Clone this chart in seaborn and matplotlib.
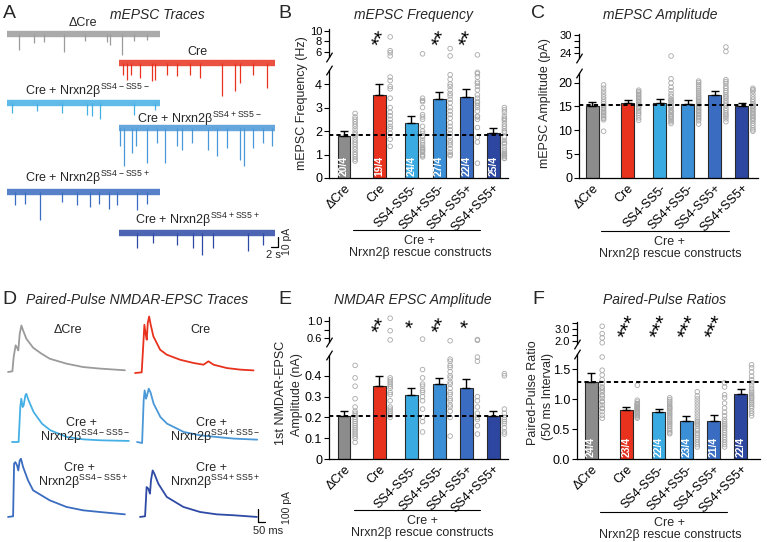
import numpy as np
import pandas as pd
import matplotlib
matplotlib.use("Agg")
import matplotlib.pyplot as plt
import seaborn as sns

# ── Data ──────────────────────────────────────────────────
GROUPS = ["ΔCre", "Cre", "SS4-SS5-", "SS4+SS5-", "SS4-SS5+", "SS4+SS5+"]
BAR_COLORS = ["#8c8c8c", "#e8321e", "#3aaae2", "#3a8fd6", "#3a6dc2", "#2d47a0"]
TRACE_COLORS = ["#9b9b9b", "#e8321e", "#45b0e5", "#4a98d8", "#3a6cc0", "#2e4aa5"]

# B: mEPSC frequency (Hz)
B_MEAN = [1.8, 3.55, 2.35, 3.35, 3.45, 1.9]
B_SEM = [0.2, 0.45, 0.3, 0.3, 0.35, 0.22]
B_N = ["20/4", "19/4", "24/4", "27/4", "22/4", "25/4"]
B_REF = 1.83
B_STARS = ["", "**", "", "**", "**", ""]
B_DOTS = [
    [2.75, 2.6, 2.5, 2.4, 2.3, 2.2, 2.08, 1.95, 1.85, 1.75, 1.63, 1.53, 1.43, 1.32, 1.22, 1.1, 1.0, 0.9, 0.8, 0.72],
    [8.8, 6.2, 5.8, 5.2, 4.3, 4.15, 3.9, 3.8, 3.4, 3.0, 2.8, 2.65, 2.5, 2.35, 2.2, 2.1, 1.9, 1.65, 1.35],
    [5.6, 3.4, 3.25, 3.0, 2.7, 2.6, 2.5, 2.2, 1.9, 1.75, 1.6, 1.5, 1.4, 1.3, 1.25, 1.15, 1.1, 1.0, 0.95, 0.9, 2.0, 1.8, 1.2, 3.3],
    [6.6, 5.2, 4.4, 4.2, 3.9, 3.75, 3.6, 3.35, 3.2, 3.0, 2.85, 2.7, 2.55, 2.35, 2.2, 2.05, 1.9, 1.75, 1.6, 1.5, 1.4, 1.25, 1.1, 1.0, 0.95, 4.0, 3.5],
    [5.4, 4.5, 4.44, 4.3, 4.1, 4.03, 3.9, 3.75, 3.54, 3.4, 3.26, 3.2, 3.1, 3.0, 2.85, 2.64, 2.6, 2.5, 2.15, 1.74, 1.53, 0.63],
    [3.0, 2.9, 2.8, 2.64, 2.55, 2.5, 2.43, 2.3, 2.2, 2.1, 2.0, 1.95, 1.74, 1.6, 1.5, 1.46, 1.32, 1.2, 1.1, 1.04, 1.0, 0.95, 0.93, 0.85, 0.83],
]

# C: mEPSC amplitude (pA)
C_MEAN = [15.1, 15.7, 15.8, 15.5, 17.3, 15.1]
C_SEM = [0.9, 0.7, 0.8, 0.9, 1.0, 0.6]
C_REF = 15.2
C_DOTS = [
    [19.5, 18.8, 18.2, 17.6, 17.0, 16.5, 16.0, 15.6, 15.2, 14.9, 14.6, 14.3, 14.0, 13.7, 13.4, 13.1, 12.8, 12.5, 12.2, 9.8],
    [18.4, 18.1, 17.8, 17.5, 17.2, 16.9, 16.6, 16.3, 16.0, 15.7, 15.4, 15.1, 14.8, 14.5, 14.0, 13.6, 13.2, 12.6, 12.1],
    [23.0, 20.8, 19.9, 19.0, 18.3, 17.6, 17.1, 16.5, 16.3, 16.0, 15.8, 15.3, 15.0, 14.8, 14.3, 14.0, 13.7, 13.3, 13.0, 12.8, 12.5, 12.1, 11.8, 11.4],
    [20.3, 20.0, 19.6, 19.2, 18.8, 18.4, 18.0, 17.6, 17.2, 16.9, 16.6, 16.3, 16.0, 15.7, 15.4, 15.1, 14.8, 14.5, 14.2, 13.9, 13.6, 13.3, 13.0, 12.7, 12.4, 12.0, 11.3],
    [26.0, 24.5, 20.6, 20.2, 19.8, 19.2, 18.8, 18.3, 17.9, 17.4, 17.0, 16.7, 16.2, 15.7, 15.2, 14.6, 14.1, 13.6, 13.2, 12.9, 12.4, 11.8],
    [18.8, 18.5, 18.2, 17.6, 17.0, 16.5, 16.0, 15.6, 15.3, 15.0, 14.7, 14.4, 14.1, 13.8, 13.5, 13.2, 12.9, 12.6, 12.3, 12.0, 11.5, 11.0, 10.5, 10.1, 9.8],
]

# E: 1st NMDAR-EPSC amplitude (nA)
E_MEAN = [0.205, 0.35, 0.31, 0.36, 0.34, 0.205]
E_SEM = [0.025, 0.05, 0.03, 0.03, 0.045, 0.025]
E_REF = 0.205
E_STARS = ["", "**", "*", "**", "*", ""]
E_DOTS = [
    [0.45, 0.39, 0.35, 0.29, 0.25, 0.23, 0.22, 0.21, 0.2, 0.19, 0.18, 0.17, 0.16, 0.15, 0.14, 0.13, 0.12, 0.11, 0.10, 0.08],
    [1.07, 0.77, 0.55, 0.39, 0.38, 0.37, 0.36, 0.35, 0.34, 0.32, 0.31, 0.28, 0.25, 0.24, 0.23, 0.22, 0.21, 0.2],
    [0.57, 0.43, 0.39, 0.36, 0.35, 0.33, 0.32, 0.3, 0.28, 0.24, 0.2, 0.18, 0.13],
    [0.53, 0.48, 0.47, 0.45, 0.44, 0.42, 0.4, 0.39, 0.37, 0.36, 0.34, 0.32, 0.31, 0.29, 0.28, 0.26, 0.25, 0.23, 0.2, 0.11],
    [0.56, 0.54, 0.49, 0.47, 0.3, 0.28, 0.25, 0.22, 0.2, 0.19, 0.16, 0.12],
    [0.41, 0.4, 0.24, 0.22, 0.2, 0.19, 0.18, 0.17, 0.15, 0.13, 0.12],
]

# F: paired-pulse ratio
F_MEAN = [1.29, 0.82, 0.78, 0.63, 0.64, 1.09]
F_SEM = [0.15, 0.05, 0.05, 0.09, 0.09, 0.07]
F_N = ["24/4", "23/4", "22/4", "23/4", "21/4", "22/4"]
F_REF = 1.28
F_STARS = ["", "***", "***", "***", "***", ""]
F_DOTS = [
    [3.2, 2.6, 2.25, 1.85, 1.7, 1.48, 1.4, 1.32, 1.26, 1.2, 1.18, 1.15, 1.12, 1.07, 1.05, 1.01, 0.96, 0.95, 0.9, 0.85, 0.84, 0.79, 0.73, 0.68],
    [1.23, 0.98, 0.95, 0.92, 0.92, 0.9, 0.9, 0.88, 0.87, 0.86, 0.85, 0.84, 0.83, 0.82, 0.8, 0.79, 0.78, 0.76, 0.75, 0.73, 0.72, 0.7, 0.68],
    [1.02, 0.99, 0.96, 0.93, 0.9, 0.87, 0.85, 0.84, 0.81, 0.78, 0.75, 0.72, 0.69, 0.66, 0.63, 0.6, 0.57, 0.54, 0.5, 0.47, 0.44, 0.42],
    [1.12, 1.05, 1.0, 0.95, 0.9, 0.85, 0.8, 0.75, 0.7, 0.65, 0.62, 0.6, 0.58, 0.55, 0.5, 0.47, 0.43, 0.4, 0.36, 0.32, 0.28, 0.24, 0.2],
    [1.27, 1.2, 1.07, 1.02, 0.93, 0.85, 0.78, 0.72, 0.66, 0.62, 0.58, 0.55, 0.52, 0.48, 0.44, 0.4, 0.36, 0.32, 0.28, 0.24, 0.2],
    [1.57, 1.52, 1.45, 1.38, 1.32, 1.27, 1.22, 1.17, 1.13, 1.1, 1.07, 1.04, 1.02, 1.0, 0.97, 0.94, 0.91, 0.88, 0.85, 0.8, 0.76, 0.72],
]

# A: mEPSC traces, recording length (s), event times (s) and amplitudes (pA)
MINI_DUR = [46, 47, 46, 47, 46, 47]
MINI_T = [
    [3.5, 8, 11, 17, 23.5, 30, 31, 34.5, 38, 42],
    [1.3, 2.5, 3.7, 6.5, 10, 11, 14.5, 17.5, 21.5, 24.5, 31, 35, 36.5, 40.5, 44.5],
    [1.5, 9, 16.5, 24, 25.5, 28, 38, 44.5],
    [0.3, 1.5, 4, 5.3, 8.5, 11.5, 14, 17.5, 19, 22, 27, 29.5, 32.5, 36.5, 37.7, 40.5, 43.5, 46],
    [2.5, 5.5, 10, 16.5, 21, 25, 27.5, 30.5, 33, 39, 42],
    [5.5, 10.5, 17.5, 22.5, 25, 28.5, 39, 43.5],
]
MINI_A = [
    [16, 9, 8, 18, 7, 8, 11, 21, 7, 6],
    [12, 17, 12, 15, 18, 17, 12, 13, 12, 15, 33, 28, 20, 12, 25],
    [10, 8, 10, 12, 13, 16, 12, 7],
    [18, 38, 25, 18, 35, 15, 35, 18, 22, 15, 22, 28, 20, 32, 38, 20, 15, 18],
    [13, 12, 28, 10, 13, 15, 12, 17, 13, 18, 12],
    [15, 10, 12, 15, 22, 15, 18, 12],
]

# D: paired-pulse NMDAR-EPSC traces, time (ms) and current (pA)
NM_T = [
    [0, 31, 40, 54, 64, 73, 83, 95, 107, 130, 178, 237, 296, 415, 533, 652, 830],
    [0, 47, 59, 66, 76, 83, 90, 100, 111, 130, 178, 225, 320, 415, 486, 521, 557, 652, 747, 841],
    [0, 47, 59, 66, 76, 83, 95, 102, 118, 154, 213, 273, 391, 510, 628, 830],
    [0, 36, 47, 54, 64, 71, 83, 95, 118, 166, 213, 332, 450, 569, 687, 853],
    [0, 36, 43, 52, 64, 73, 83, 92, 107, 142, 178, 296, 415, 533, 652, 830],
    [0, 36, 47, 59, 71, 78, 90, 102, 130, 190, 308, 427, 545, 664, 830],
]
NM_I = [
    [0, 5, 115, 205, 187, 166, 294, 358, 320, 256, 187, 141, 102, 64, 38, 26, 13],
    [0, 5, 230, 371, 294, 256, 384, 435, 371, 282, 179, 141, 102, 77, 64, 90, 64, 38, 26, 20],
    [0, 0, 269, 333, 269, 282, 358, 371, 320, 230, 141, 90, 38, 20, 13, 8],
    [0, -8, 320, 397, 333, 358, 410, 384, 294, 192, 141, 77, 51, 38, 26, 18],
    [0, 5, 410, 422, 397, 358, 435, 448, 384, 282, 205, 128, 77, 51, 38, 20],
    [0, 5, 230, 218, 179, 282, 358, 333, 256, 154, 77, 38, 20, 13, 0],
]

# ── Layout ────────────────────────────────────────────────
W, H = 767, 542
XPOS = [0, 1.17, 2.25, 3.17, 4.08, 4.98]
DOT_DX = 0.37

sns.set_style("ticks")
plt.rcParams["font.family"] = ["Liberation Sans", "DejaVu Sans"]
plt.rcParams["mathtext.fontset"] = "custom"
plt.rcParams["mathtext.rm"] = "Liberation Sans"
plt.rcParams["axes.linewidth"] = 0.9

fig = plt.figure(figsize=(W / 100, H / 100), dpi=100)


def px_axes(x0, y0, x1, y1):
    return fig.add_axes([x0 / W, 1 - y1 / H, (x1 - x0) / W, (y1 - y0) / H])


def ftext(x, y, s, **kw):
    kw.setdefault("ha", "center")
    kw.setdefault("va", "center")
    kw.setdefault("fontsize", 9)
    fig.text(x / W, 1 - y / H, s, **kw)


def fline(x0, x1, y):
    fig.add_artist(plt.Line2D([x0 / W, x1 / W], [1 - y / H] * 2,
                              transform=fig.transFigure, color="k", lw=0.8))


def style_ticks(ax, size=9):
    ax.tick_params(axis="y", direction="out", length=3.5, width=0.8,
                   labelsize=size, pad=1.5, colors="k")
    ax.tick_params(axis="x", length=0, labelsize=9, pad=3, colors="k")
    for sp in ax.spines.values():
        sp.set_color("k")


def break_mark(ax, y):
    ax.plot([0], [y], transform=ax.transAxes, marker=[(-1, -1.6), (1, 1.6)],
            markersize=7, linestyle="none", color="k", mec="k", mew=0.9,
            clip_on=False)


def bar_panel(lo_box, hi_box, xlim, means, sems, dots, lo_lim, hi_lim,
              lo_ticks, lo_labels, hi_ticks, hi_labels, ref,
              counts=None, stars=None, star_y=None):
    ax = px_axes(*lo_box)
    axu = px_axes(*hi_box)

    bars = pd.DataFrame({"x": XPOS, "group": GROUPS, "mean": means})
    sns.barplot(data=bars, x="x", y="mean", hue="group", hue_order=GROUPS,
                palette=BAR_COLORS, native_scale=True, width=0.48,
                errorbar=None, saturation=1, edgecolor="#2a2a2a",
                linewidth=0.8, legend=False, ax=ax)
    ax.errorbar(XPOS, means, yerr=[np.zeros(len(means)), sems], fmt="none",
                ecolor="k", elinewidth=1.0, capsize=3.2, capthick=1.0, zorder=3)

    rows = [(XPOS[i] + DOT_DX, v) for i, vals in enumerate(dots) for v in vals]
    pts = pd.DataFrame(rows, columns=["x", "v"])
    lo_pts = pts[pts["v"] <= lo_lim[1]]
    hi_pts = pts[pts["v"] > lo_lim[1]]
    for a, d in [(ax, lo_pts), (axu, hi_pts)]:
        sns.scatterplot(data=d, x="x", y="v", ax=a, color="none",
                        edgecolor="#a8a8a8", linewidth=0.6, s=11,
                        clip_on=False, zorder=4)

    ax.axhline(ref, color="k", lw=1.4, ls=(0, (2.2, 1.6)), zorder=5)

    for a in (ax, axu):
        a.set_xlim(*xlim)
        a.set_xlabel("")
        a.set_ylabel("")
    style_ticks(ax)
    style_ticks(axu, size=8)
    ax.set_ylim(*lo_lim)
    axu.set_ylim(*hi_lim)
    ax.set_yticks(lo_ticks, lo_labels)
    axu.set_yticks(hi_ticks, hi_labels)
    ax.set_xticks(XPOS)
    ax.set_xticklabels(GROUPS, rotation=45, ha="right", rotation_mode="anchor")
    axu.set_xticks([])
    sns.despine(ax=ax)
    sns.despine(ax=axu, bottom=True)
    break_mark(ax, 1.0)
    break_mark(axu, 0.0)

    if counts:
        for x, s in zip(XPOS, counts):
            ax.text(x, lo_lim[1] * 0.02, s, rotation=90, ha="center",
                    va="bottom", color="white", fontsize=7.5,
                    fontweight="bold", zorder=6)
    if stars:
        for x, s in zip(XPOS, stars):
            if s:
                axu.text(x + 0.08, star_y, s, rotation=65, ha="center",
                         va="center", fontsize=15, color="k")
    return ax, axu


# ── Panel B ───────────────────────────────────────────────
bar_panel((329, 70, 508, 178), (329, 29, 508, 57), (-0.5, 5.47),
          B_MEAN, B_SEM, B_DOTS, (0, 4.6), (5, 10.3),
          [0, 1, 2, 3, 4], ["0", "1", "2", "3", "4"],
          [6, 8, 10], ["6", "8", "10"], B_REF,
          counts=B_N, stars=B_STARS, star_y=8.4)

# ── Panel C ───────────────────────────────────────────────
bar_panel((579, 73, 758, 178), (579, 33.5, 758, 57.5), (-0.45, 5.52),
          C_MEAN, C_SEM, C_DOTS, (0, 22), (22.5, 30.5),
          [0, 5, 10, 15, 20], ["0", "5", "10", "15", "20"],
          [24, 26, 28, 30], ["24", "", "", "30"], C_REF)

# ── Panel E ───────────────────────────────────────────────
bar_panel((329, 355, 508, 459), (329, 317, 508, 342), (-0.5, 5.47),
          E_MEAN, E_SEM, E_DOTS, (0, 0.5), (0.5, 1.1),
          [0, 0.1, 0.2, 0.3, 0.4], ["0", "0.1", "0.2", "0.3", "0.4"],
          [0.6, 0.8, 1.0], ["0.6", "", "1.0"], E_REF,
          stars=E_STARS, star_y=0.88)

# ── Panel F ───────────────────────────────────────────────
bar_panel((577, 354, 760, 459), (577, 322, 760, 344), (-0.47, 5.63),
          F_MEAN, F_SEM, F_DOTS, (0, 1.75), (1.75, 3.55),
          [0, 0.5, 1.0, 1.5], ["0.0", "0.5", "1.0", "1.5"],
          [2.0, 2.5, 3.0, 3.5], ["2.0", "", "3.0", ""], F_REF,
          counts=F_N, stars=F_STARS, star_y=3.1)

# ── Panel A: mEPSC traces ─────────────────────────────────
axA = px_axes(0, 0, 290, 270)
axA.set_xlim(-2.1, 85.0)
axA.set_ylim(-270, 0)
axA.axis("off")
mini_t0 = [0, 33.5, 0, 33.5, 0, 33.5]
mini_base = [-34, -63, -103, -128, -192, -233]
for i in range(6):
    c = TRACE_COLORS[i]
    t0, b = mini_t0[i], mini_base[i]
    axA.plot([t0, t0 + MINI_DUR[i]], [b, b], color=c, lw=4.6,
             solid_capstyle="butt", alpha=0.85)
    ev = np.array(MINI_T[i]) + t0
    axA.vlines(ev, b, b - np.array(MINI_A[i]), color=c, lw=0.9)
# scale bar: 10 pA / 2 s
axA.plot([79.4, 81.4, 81.4], [-247, -247, -237], color="k", lw=0.9)

ftext(157, 15, "mEPSC Traces", fontsize=10, style="italic")
ftext(83, 23, "ΔCre")
ftext(197, 52, "Cre")
ftext(25, 91, "Cre + Nrxn2β$^{\\mathregular{SS4-SS5-}}$", ha="left")
ftext(137, 119, "Cre + Nrxn2β$^{\\mathregular{SS4+SS5-}}$", ha="left")
ftext(25, 178, "Cre + Nrxn2β$^{\\mathregular{SS4-SS5+}}$", ha="left")
ftext(135, 220, "Cre + Nrxn2β$^{\\mathregular{SS4+SS5+}}$", ha="left")
ftext(273, 255, "2 s", fontsize=8)
ftext(287, 241, "10 pA", fontsize=7.5, rotation=90)

# ── Panel D: NMDAR-EPSC traces ────────────────────────────
axD = px_axes(0, 310, 290, 535)
axD.set_xlim(-57, 2002)
axD.set_ylim(-1255, 477)
axD.axis("off")
nm_t0 = [0, 902, 28, 916, 0, 937]
nm_base = [0, -8, -539, -539, -1116, -1116]
for i in range(6):
    sns.lineplot(x=np.array(NM_T[i]) + nm_t0[i], y=np.array(NM_I[i]) + nm_base[i],
                 ax=axD, color=TRACE_COLORS[i], lw=1.3, estimator=None, sort=False)
# scale bar: 100 pA / 50 ms
axD.plot([1775, 1775, 1825], [-1055, -1155, -1155], color="k", lw=0.9)

ftext(137, 300, "Paired-Pulse NMDAR-EPSC Traces", fontsize=10, style="italic")
ftext(68, 330, "ΔCre")
ftext(200, 330, "Cre")
for x, y, tag in [(82, 423, "SS4-SS5-"), (212, 423, "SS4+SS5-"),
                  (80, 468, "SS4-SS5+"), (212, 468, "SS4+SS5+")]:
    ftext(x, y, "Cre +")
    ftext(x + 3, y + 14, "Nrxn2β$^{\\mathregular{" + tag + "}}$")
ftext(268, 531, "50 ms", fontsize=8)
ftext(287, 508, "100 pA", fontsize=7.5, rotation=90)

# ── Titles, axis labels, group bars ───────────────────────
ftext(413, 15, "mEPSC Frequency", fontsize=10, style="italic")
ftext(660, 15, "mEPSC Amplitude", fontsize=10, style="italic")
ftext(413, 300, "NMDAR EPSC Amplitude", fontsize=10, style="italic")
ftext(665, 300, "Paired-Pulse Ratios", fontsize=10, style="italic")

ftext(302, 103, "mEPSC Frequency (Hz)", rotation=90)
ftext(545, 103, "mEPSC Amplitude (pA)", rotation=90)
ftext(281, 393, "1st NMDAR-EPSC", rotation=90)
ftext(297, 395, "Amplitude (nA)", rotation=90)
ftext(533, 393, "Paired-Pulse Ratio", rotation=90)
ftext(548, 396, "(50 ms Interval)", rotation=90)

for x0, x1, y, xc in [(353, 480, 230, 420), (601, 729, 231, 670),
                      (354, 480, 510, 422), (600, 727, 512, 670)]:
    fline(x0, x1, y)
    ftext(xc, y + 11, "Cre +")
    ftext(xc, y + 23, "Nrxn2β rescue constructs")

for x, y, s in [(9, 14, "A"), (285, 14, "B"), (538, 14, "C"),
                (9, 299, "D"), (285, 299, "E"), (538, 299, "F")]:
    ftext(x, y, s, fontsize=14)

fig.savefig("out.png", dpi=100)
